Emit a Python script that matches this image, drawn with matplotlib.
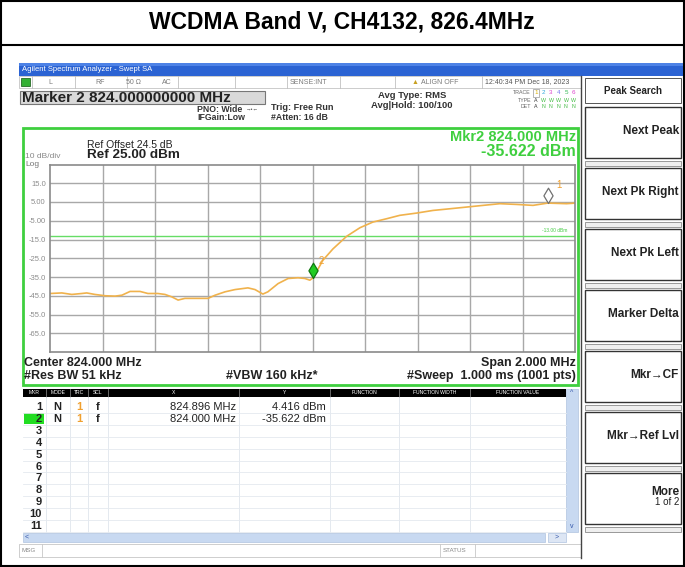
import numpy as np
import matplotlib.pyplot as plt
from matplotlib.patches import Rectangle
from matplotlib.path import Path

plt.rcParams['font.family'] = ['Liberation Sans', 'DejaVu Sans']

# ---------------- trace (swept SA, trace 1, RMS avg) ----------------
freq_mhz = [823.000, 823.045, 823.083, 823.121, 823.140, 823.171, 823.210, 823.248,
            823.274, 823.305, 823.343, 823.373, 823.411, 823.438, 823.464, 823.488,
            823.514, 823.552, 823.602, 823.629, 823.667, 823.705, 823.754, 823.781,
            823.811, 823.830, 823.869, 823.907, 823.945, 823.971, 823.990, 824.000,
            824.020, 824.040, 824.078, 824.130, 824.181, 824.230, 824.283, 824.333,
            824.397, 824.459, 824.524, 824.587, 824.650, 824.714, 824.778, 824.840,
            824.896, 824.968, 825.000]
level_dbm = [-43.8, -43.5, -44.3, -43.8, -43.5, -44.3, -45.0, -45.2,
             -44.7, -42.7, -42.7, -43.8, -43.8, -44.3, -45.6, -47.3,
             -46.4, -46.4, -46.4, -44.7, -42.9, -41.7, -40.8, -41.7,
             -44.1, -42.9, -38.5, -35.8, -35.4, -35.8, -36.7, -35.622,
             -31.0, -26.0, -20.0, -13.3, -8.7, -5.7, -3.9, -2.1,
             -0.9, 0.5, 1.4, 2.3, 3.2, 4.1, 3.7, 3.2,
             4.416, 4.1, 4.4]

# markers
marker_ids = ['1', '2']
marker_freq = [824.896, 824.000]
marker_level = [4.416, -35.622]
marker_x_text = ['824.896 MHz', '824.000 MHz']
marker_y_text = ['4.416 dBm', '-35.622 dBm']

# display settings
ref_level = 25.0
db_per_div = 10.0
center_mhz = 824.0
span_mhz = 2.0
limit_dbm = -13.0

y_ticks = [15, 5, -5, -15, -25, -35, -45, -55, -65]
y_tick_labels = ['15.0', '5.00', '-5.00', '-15.0', '-25.0', '-35.0', '-45.0', '-55.0', '-65.0']

softkeys = ['Next Peak', 'Next Pk Right', 'Next Pk Left', 'Marker Delta',
            'Mkr\u2192CF', 'Mkr\u2192Ref Lvl', 'More']

table_cols = ['MKR', 'MODE', 'TRC', 'SCL', 'X', 'Y', 'FUNCTION', 'FUNCTION WIDTH', 'FUNCTION VALUE']
table_edges = [23, 46, 70, 88, 108, 239, 330, 399, 470, 566]
row_numbers = [str(i) for i in range(1, 12)]

# ---------------- canvas in pixel units ----------------
W, H = 685, 567
fig = plt.figure(figsize=(W / 100, H / 100), dpi=100)
bg = fig.add_axes([0, 0, 1, 1])
bg.set_xlim(0, W)
bg.set_ylim(H, 0)
bg.axis('off')


def box(x0, y0, x1, y1, fc='none', ec='none', lw=0.8, z=1):
    bg.add_patch(Rectangle((x0, y0), x1 - x0, y1 - y0, facecolor=fc,
                           edgecolor=ec, linewidth=lw, zorder=z))


def txt(x, y, s, size=7, ha='left', color='#222222', weight='normal', z=3):
    bg.text(x, y, s, fontsize=size, ha=ha, va='center', color=color,
            fontweight=weight, zorder=z)


# page frame and title
box(1, 1, 684, 566, ec='black', lw=1.5)
bg.plot([0, W], [45, 45], color='black', lw=1.5)
txt(342, 22, 'WCDMA Band V, CH4132, 826.4MHz', size=16.5, ha='center',
    weight='bold', color='black')

# window title bar
box(19, 63, 683, 76, fc='#2b63d3')
box(19, 63, 683, 66, fc='#4d82e6')
txt(22, 69.5, 'Agilent Spectrum Analyzer - Swept SA', size=5.5, color='white')

# status row
box(19, 76, 581, 88, fc='white', ec='#b8b8b8', lw=0.5)
for xd in [32, 75, 127, 178, 235, 287, 340, 395, 482]:
    bg.plot([xd, xd], [76, 88], color='#c0c0c0', lw=0.6)
box(21, 78, 30, 86, fc='#35b035', ec='#115511', lw=0.5)
stat_col = '#7a7a7a'
txt(50, 82, 'L', size=5, ha='center', color=stat_col)
txt(100, 82, 'RF', size=5, ha='center', color=stat_col)
txt(133, 82, '50 \u03a9', size=5, ha='center', color=stat_col)
txt(167, 82, 'AC', size=5, ha='center', color=stat_col)
txt(290, 82, 'SENSE:INT', size=5, color=stat_col)
txt(415, 82, '\u25b2', size=5, ha='center', color='#c8a020')
txt(421, 82, 'ALIGN OFF', size=5, color=stat_col)
txt(485, 82, '12:40:34 PM Dec 18, 2023', size=5, color='#555555')

# active function box
box(20, 91, 265, 104, fc='#d9d9d9', ec='#777777', lw=0.8)
txt(22, 97.5, 'Marker 2 824.000000000 MHz', size=11, weight='bold')

# measurement settings
txt(197, 109, 'PNO: Wide', size=6.3, weight='bold', color='#333333')
txt(246, 109.5, '\u2192\u2022\u2190', size=4, color='#555555')
txt(197, 118, 'IFGain:Low', size=6.3, weight='bold', color='#333333')
txt(271, 107, 'Trig: Free Run', size=6.6, weight='bold', color='#333333')
txt(271, 117, '#Atten: 16 dB', size=6.3, weight='bold', color='#333333')
txt(412, 95, 'Avg Type: RMS', size=6.8, ha='center', weight='bold', color='#333333')
txt(412, 105, 'Avg|Hold: 100/100', size=6.8, ha='center', weight='bold', color='#333333')

# trace indicator
txt(531, 93, 'TRACE', size=3.8, ha='right', color='#666666')
txt(531, 100, 'TYPE', size=3.8, ha='right', color='#666666')
txt(531, 107, 'DET', size=3.8, ha='right', color='#666666')
trace_cols = ['#d8b000', '#33aadd', '#dd44cc', '#7777ee', '#33bb55', '#dd44cc']
box(533, 89, 539, 97, ec='#999999', lw=0.5)
for i, c in enumerate(trace_cols):
    xi = 536 + 7.5 * i
    txt(xi, 93, str(i + 1), size=4.5, ha='center', color=c)
    txt(xi, 100, 'A' if i == 0 else 'W', size=3.8, ha='center',
        color='#333333' if i == 0 else '#44bb44')
    txt(xi, 107, 'A' if i == 0 else 'N', size=3.8, ha='center',
        color='#333333' if i == 0 else '#44bb44')

# graticule frame (green = active window)
box(23, 128, 578, 385, ec='#3fcf3f', lw=2.0, z=2)
txt(87, 145, 'Ref Offset 24.5 dB', size=7.5, color='#222222')
txt(87, 155.5, 'Ref 25.00 dBm', size=9.7, weight='bold')
txt(25, 156.5, '10 dB/div', size=6, color='#888888')
txt(25, 164, 'Log', size=6, color='#777777')
txt(576, 137, 'Mkr2 824.000 MHz', size=10.5, ha='right', weight='bold', color='#3fcf3f')
txt(576, 151, '-35.622 dBm', size=11.5, ha='right', weight='bold', color='#3fcf3f')

txt(24, 363, 'Center 824.000 MHz', size=9, weight='bold')
txt(576, 363, 'Span 2.000 MHz', size=9, ha='right', weight='bold')
txt(24, 376, '#Res BW 51 kHz', size=9, weight='bold')
txt(226, 376, '#VBW 160 kHz*', size=9, weight='bold')
txt(576, 376, '#Sweep  1.000 ms (1001 pts)', size=9, ha='right', weight='bold')

# marker table
box(23, 389, 566, 397, fc='black')
box(23, 397, 566, 532, fc='white')
for i, name in enumerate(table_cols):
    x0, x1 = table_edges[i], table_edges[i + 1]
    txt((x0 + x1) / 2, 393, name, size=3.6, ha='center', color='white')
    if i > 0:
        bg.plot([x0, x0], [389, 397], color='#777777', lw=0.6)
        bg.plot([x0, x0], [397, 532], color='#dfe5ec', lw=0.6)
row_y = [407 + 11.9 * i for i in range(len(row_numbers))]
for ry in row_y:
    bg.plot([23, 566], [ry + 5.95, ry + 5.95], color='#e4e9ef', lw=0.6)
box(24, row_y[1] - 5.5, 44, row_y[1] + 5.5, fc='#22dd22')
for ry, num in zip(row_y, row_numbers):
    txt(42, ry, num, size=8, ha='right', weight='bold')
for k in range(len(marker_ids)):
    ry = row_y[k]
    txt(57, ry, 'N', size=8, ha='center', weight='bold')
    txt(79, ry, '1', size=8, ha='center', weight='bold', color='#f0a030')
    txt(98, ry, 'f', size=8, ha='center', weight='bold')
    txt(236, ry, marker_x_text[k], size=8, ha='right')
    txt(326, ry, marker_y_text[k], size=8, ha='right')

# scroll bars
box(566, 389, 578, 532, fc='#c8d9f1', ec='#b0c4e0', lw=0.5)
txt(572, 393, '^', size=5, ha='center', color='#3355aa')
txt(572, 527, 'v', size=5, ha='center', color='#3355aa')
box(23, 533, 545, 542, fc='#c8d9f1', ec='#b0c4e0', lw=0.5)
txt(27, 537.5, '<', size=5, ha='center', color='#3355aa')
box(548, 533, 566, 542, fc='#dde6f4', ec='#b0c4e0', lw=0.5)
txt(557, 537.5, '>', size=5, ha='center', color='#3355aa')

# message line
box(19, 544, 581, 557, fc='white', ec='#bbbbbb', lw=0.5)
for xd in [42, 440, 475]:
    bg.plot([xd, xd], [544, 557], color='#c8c8c8', lw=0.6)
txt(22, 550.5, 'MSG', size=4.5, color='#888888')
txt(443, 550.5, 'STATUS', size=4.5, color='#888888')
bg.plot([581, 581], [76, 558], color='#444444', lw=1.0)

# softkey panel
box(585, 78, 681, 103, fc='white', ec='#555555', lw=0.7)
txt(633, 91, 'Peak Search', size=7, ha='center', weight='bold')
for i, label in enumerate(softkeys):
    top = 107 + 61 * i
    box(585, top, 681, top + 51, fc='white', ec='#333333', lw=1.0)
    box(585, top + 54, 681, top + 59, fc='#efefef', ec='#8a8a8a', lw=0.6)
    if label == 'More':
        txt(679, top + 19, label, size=8.5, ha='right', weight='bold')
        txt(679, top + 29, '1 of 2', size=7, ha='right')
    else:
        txt(679, top + 24, label, size=8.5, ha='right', weight='bold')

# ---------------- graticule and trace ----------------
ax = fig.add_axes([50 / W, 1 - 352 / H, 525 / W, (352 - 164.5) / H])
ax.set_xlim(center_mhz - span_mhz / 2, center_mhz + span_mhz / 2)
ax.set_ylim(ref_level - 10 * db_per_div, ref_level)
ax.set_xticks(np.linspace(center_mhz - span_mhz / 2, center_mhz + span_mhz / 2, 11)[1:-1])
ax.set_yticks(y_ticks, labels=y_tick_labels)
ax.tick_params(axis='both', length=0, labelsize=5.5, labelcolor='#8c8c8c', pad=3)
ax.tick_params(axis='x', labelbottom=False)
ax.grid(True, color='#a8a8a8', lw=1.0)
for sp in ax.spines.values():
    sp.set_color('#8a8a8a')
    sp.set_linewidth(1.2)

ax.axhline(limit_dbm, color='#66dd66', lw=1.0)
ax.text(824.97, limit_dbm + 1.2, '-13.00 dBm', fontsize=3.5, color='#44cc44',
        ha='right', va='bottom')

ax.plot(freq_mhz, level_dbm, color='#f0b24c', lw=1.2)

# diamond marker with its tip on the trace point
diamond = Path([(0, 0), (0.6, 1), (0, 2), (-0.6, 1), (0, 0)], closed=True)
mk_face = ['white', '#22cc22']
mk_edge = ['#707070', '#117711']
label_off = [(8, 13), (6, 12)]
for k in range(len(marker_ids)):
    ax.plot(marker_freq[k], marker_level[k], marker=diamond, ms=22,
            mfc=mk_face[k], mec=mk_edge[k], mew=0.9, clip_on=False, zorder=5)
    ax.annotate(marker_ids[k], (marker_freq[k], marker_level[k]),
                xytext=label_off[k], textcoords='offset points',
                color='#f0a030', fontsize=7, ha='center', va='center', zorder=6)

fig.savefig('out.png', dpi=100)
